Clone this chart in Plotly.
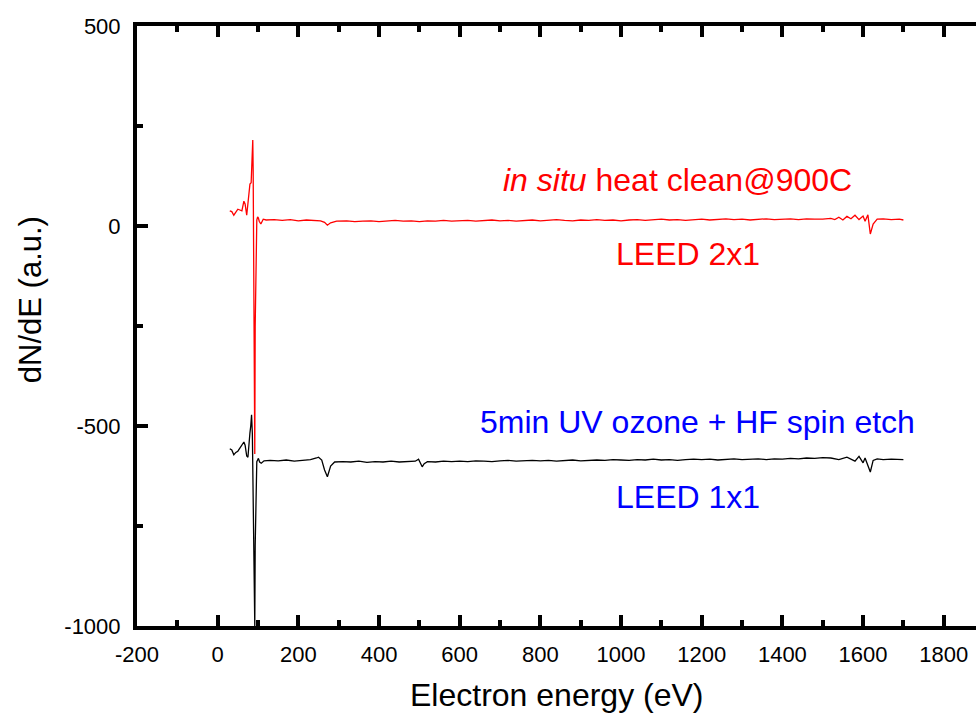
import plotly.graph_objects as go

# ---- data ----
red_energy = [
    30, 35, 40, 45, 50, 55, 60, 65, 68, 72,
    75, 78, 80, 83, 85, 87, 88, 89, 90, 91,
    92, 93, 95, 97, 99, 101, 103, 107, 113, 120,
    140, 160, 180, 200, 220, 240, 255, 265, 272, 280,
    295, 320, 340, 360, 380, 400, 420, 440, 460, 480,
    500, 520, 540, 560, 580, 600, 620, 640, 660, 680,
    700, 720, 740, 760, 780, 800, 820, 840, 860, 880,
    900, 920, 940, 960, 980, 1000, 1020, 1040, 1060, 1080,
    1100, 1120, 1140, 1160, 1180, 1200, 1220, 1240, 1260, 1280,
    1300, 1320, 1340, 1360, 1380, 1400, 1420, 1440, 1460, 1480,
    1500, 1520, 1530, 1540, 1550, 1560, 1570, 1580, 1590, 1600,
    1605, 1612, 1618, 1625, 1635, 1650, 1670, 1690, 1700,
]
red_signal = [
    38, 36, 27, 35, 42, 40, 38, 62, 55, 27,
    60, 102, 105, 108, 150, 215, 140, -50, -300, -500,
    -570, -250, -20, 15, 23, 20, 12, 5, 17, 15,
    16, 14, 16, 13, 15, 14, 13, 9, 2, 8,
    12, 13, 11, 12, 13, 11, 12, 14, 12, 13,
    11, 13, 12, 14, 12, 13, 14, 12, 13, 15,
    13, 14, 12, 14, 15, 13, 14, 16, 14, 13,
    15, 14, 16, 14, 15, 13, 15, 16, 14, 15,
    17, 15, 16, 14, 16, 17, 15, 16, 18, 16,
    17, 15, 17, 18, 16, 17, 18, 16, 18, 17,
    17, 19, 16, 22, 15, 24, 18, 27, 16, 25,
    12, 28, -20, 5, 17, 18, 16, 17, 15,
]

black_energy = [
    30, 35, 40, 45, 50, 55, 60, 65, 68, 72,
    75, 78, 80, 82, 84, 86, 88, 89, 90, 91,
    92, 93, 95, 97, 99, 101, 104, 108, 115, 130,
    150, 170, 190, 210, 230, 245, 250, 258, 265, 272,
    280, 290, 310, 330, 350, 370, 390, 410, 430, 450,
    470, 490, 498, 503, 507, 512, 520, 540, 560, 580,
    600, 620, 640, 660, 680, 700, 720, 740, 760, 780,
    800, 820, 840, 860, 880, 900, 920, 940, 960, 980,
    1000, 1020, 1040, 1060, 1080, 1100, 1120, 1140, 1160, 1180,
    1200, 1220, 1240, 1260, 1280, 1300, 1320, 1340, 1360, 1380,
    1400, 1420, 1440, 1460, 1480, 1500, 1520, 1540, 1560, 1580,
    1590, 1600, 1605, 1612, 1618, 1625, 1635, 1650, 1670, 1700,
]
black_signal = [
    -557, -560, -572, -566, -563, -556, -548, -540, -548, -575,
    -578, -530, -517, -500, -472, -520, -700, -850, -950, -1000,
    -1000, -800, -620, -589, -585, -581, -590, -593, -587, -586,
    -587, -585, -588, -586, -584, -580, -578, -585, -610, -627,
    -600, -590, -589, -590, -588, -591, -589, -590, -588, -590,
    -589, -588, -583, -592, -602, -594, -589, -590, -588, -589,
    -588, -589, -587, -588, -589, -587, -586, -588, -587, -586,
    -587, -586, -588, -586, -585, -587, -586, -585, -586, -584,
    -585, -586, -584, -585, -583, -585, -584, -586, -584, -583,
    -584, -583, -585, -583, -582, -584, -583, -582, -584, -582,
    -583, -581, -582, -580, -581, -579, -580, -584, -578, -588,
    -576, -592, -580, -600, -615, -586, -582, -584, -583, -584,
]

x_tick_values = [-200, 0, 200, 400, 600, 800, 1000, 1200, 1400, 1600, 1800]
x_tick_labels = ["-200", "0", "200", "400", "600", "800", "1000", "1200", "1400", "1600", "1800"]
y_tick_values = [-1000, -500, 0, 500]
y_tick_labels = ["-1000", "-500", "0", "500"]

labels = [
    ("<i>in situ</i> heat clean@900C", 1139, 115, "#ff0000"),
    ("LEED 2x1", 1166, -70, "#ff0000"),
    ("5min UV ozone + HF spin etch", 1189, -490, "#0000ff"),
    ("LEED 1x1", 1165, -677, "#0000ff"),
]

FONT = "Liberation Sans, Arial, sans-serif"

fig = go.Figure()
fig.add_trace(go.Scatter(x=black_energy, y=black_signal, mode="lines",
                         line=dict(color="black", width=1.3), showlegend=False))
fig.add_trace(go.Scatter(x=red_energy, y=red_signal, mode="lines",
                         line=dict(color="#ff0000", width=1.3), showlegend=False))

for txt, xv, yv, col in labels:
    fig.add_annotation(x=xv, y=yv, xref="x", yref="y", text=txt, showarrow=False,
                       xanchor="center", yanchor="middle",
                       font=dict(family=FONT, size=32, color=col))

# axis titles
fig.add_annotation(x=0.5, y=0, xref="paper", yref="paper", yshift=-69,
                   text="Electron energy (eV)", showarrow=False,
                   xanchor="center", yanchor="middle",
                   font=dict(family=FONT, size=32, color="black"))
fig.add_annotation(x=0, y=0.543, xref="paper", yref="paper", xshift=-107,
                   text="dN/dE (a.u.)", showarrow=False, textangle=-90,
                   xanchor="center", yanchor="middle",
                   font=dict(family=FONT, size=31, color="black"))

fig.update_xaxes(range=[-200, 1880], tickmode="array", tickvals=x_tick_values,
                 ticktext=x_tick_labels,
                 ticks="inside", ticklen=11, tickwidth=3.5, tickcolor="black",
                 showline=True, linewidth=4, linecolor="black", mirror="ticks",
                 showgrid=False, zeroline=False, ticklabelstandoff=6,
                 tickfont=dict(family=FONT, size=22, color="black"),
                 minor=dict(ticks="inside", ticklen=6, tickwidth=3.5, tickcolor="black",
                            dtick=100, tick0=-200, showgrid=False))
fig.update_yaxes(range=[-1000, 500], tickmode="array", tickvals=y_tick_values,
                 ticktext=y_tick_labels,
                 ticks="inside", ticklen=11, tickwidth=3.5, tickcolor="black",
                 showline=True, linewidth=4, linecolor="black", mirror=False,
                 showgrid=False, zeroline=False, ticklabelstandoff=8,
                 tickfont=dict(family=FONT, size=22, color="black"),
                 minor=dict(ticks="inside", ticklen=6, tickwidth=3.5, tickcolor="black",
                            dtick=250, tick0=-1000, showgrid=False))

fig.update_layout(width=976, height=717, margin=dict(l=137, r=0, t=26, b=91),
                  plot_bgcolor="white", paper_bgcolor="white",
                  font=dict(family=FONT))

fig.write_html("out.html")
